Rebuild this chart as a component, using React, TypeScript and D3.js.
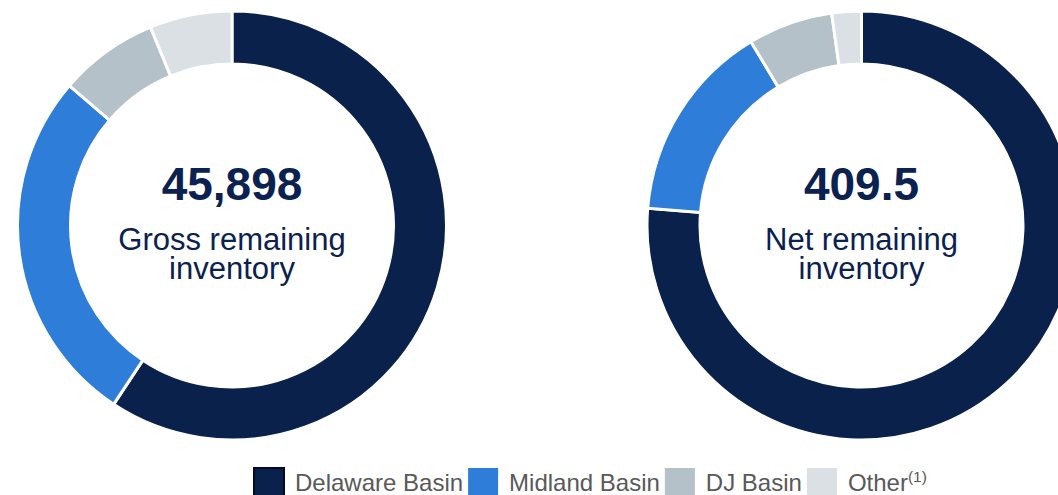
import React, { useEffect, useRef } from 'react';
import * as d3 from 'd3';

// Basins, clockwise from 12 o'clock
const basins = ["Delaware Basin", "Midland Basin", "DJ Basin", "Other"];
const basinColors = ["#0a214c", "#2e7dd8", "#b4c1c8", "#dae0e3"];

// Gross remaining inventory (locations) by basin
const grossValues = [27220, 12390, 3440, 2848];
// Net remaining inventory by basin
const netValues = [312.4, 61.8, 26.2, 9.1];

const centerValues = ["45,898", "409.5"];
const centerLabels = [
  ["Gross remaining", "inventory"],
  ["Net remaining", "inventory"],
];

const App = () => {
  const svgRef = useRef<SVGSVGElement | null>(null);
  const width = 1058;
  const height = 495;

  useEffect(() => {
    drawChart();
    // eslint-disable-next-line react-hooks/exhaustive-deps
  }, []);

  const drawChart = () => {
    const svg = d3.select(svgRef.current);
    svg.selectAll("*").remove();

    const outerR = 214.5;
    const innerR = 161.5;
    const centers = [232, 861.5];
    const cy = 225.5;
    const navy = "#0b2150";
    const font = "'Liberation Sans', Arial, sans-serif";

    const pie = d3.pie<number>().sort(null).value(d => d);
    const arc = d3.arc<d3.PieArcDatum<number>>()
      .innerRadius(innerR)
      .outerRadius(outerR);

    [grossValues, netValues].forEach((values, k) => {
      const g = svg.append("g")
        .attr("transform", `translate(${centers[k]},${cy})`);

      // donut slices with white separators
      g.selectAll(".slice")
        .data(pie(values))
        .enter().append("path")
        .attr("class", "slice")
        .attr("d", arc)
        .attr("fill", (d, i) => basinColors[i])
        .attr("stroke", "#ffffff")
        .attr("stroke-width", 3)
        .attr("stroke-linejoin", "miter");

      // big number in the middle
      g.append("text")
        .attr("x", 0)
        .attr("y", -25.5)
        .attr("text-anchor", "middle")
        .attr("font-family", font)
        .attr("font-weight", "bold")
        .attr("font-size", "46px")
        .attr("fill", navy)
        .text(centerValues[k]);

      // two-line caption under it
      g.selectAll(".caption")
        .data(centerLabels[k])
        .enter().append("text")
        .attr("class", "caption")
        .attr("x", 0)
        .attr("y", (d, i) => 24 + i * 29.5)
        .attr("text-anchor", "middle")
        .attr("font-family", font)
        .attr("font-size", "31px")
        .attr("fill", navy)
        .text(d => d);
    });

    // Legend along the bottom, laid out by measured text width
    const legend = svg.append("g").attr("transform", "translate(254, 0)");
    const box = 30;
    let x = 0;
    basins.forEach((name, i) => {
      const item = legend.append("g").attr("transform", `translate(${x},0)`);
      item.append("rect")
        .attr("x", 0)
        .attr("y", 468)
        .attr("width", box)
        .attr("height", box)
        .attr("fill", basinColors[i])
        // first swatch has a dark outline in the original
        .attr("stroke", i === 0 ? "#020a1c" : "none")
        .attr("stroke-width", i === 0 ? 2 : 0);

      const label = item.append("text")
        .attr("x", box + 11)
        .attr("y", 491)
        .attr("font-family", font)
        .attr("font-size", "24px")
        .attr("fill", "#595959")
        .text(name);

      if (name === "Other") {
        label.append("tspan")
          .attr("dy", -9)
          .attr("font-size", "15.5px")
          .text("(1)");
      }

      const tw = (label.node() as SVGTextElement).getComputedTextLength();
      x += box + 11 + tw + 5;
    });
  };

  return (
    <svg
      ref={svgRef}
      width={width}
      height={height}
      style={{ position: 'absolute', left: 0, top: 0, display: 'block', background: '#ffffff' }}
    ></svg>
  );
};

export default App;
